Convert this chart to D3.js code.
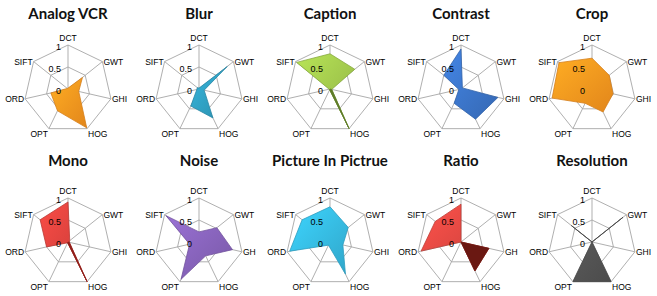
<!DOCTYPE html>
<html>
<head>
<meta charset="utf-8">
<script src="https://d3js.org/d3.v7.min.js"></script>
<style>
  body { margin: 0; background: #fff; }
  svg { display: block; }
</style>
</head>
<body>
<div id="charts"></div>
<script>
  const axes = ["DCT", "GWT", "GHI", "HOG", "OPT", "ORD", "SIFT"];
  const titles = ["Analog VCR", "Blur", "Caption", "Contrast", "Crop",
                  "Mono", "Noise", "Picture In Pictrue", "Ratio", "Resolution"];
  const tickValues = [0, 0.5, 1];
  const tickLabels = ["0", "0.5", "1"];

  // one array per attack, in the order of axes
  const analogVCR  = [0.02, 0.42, 0.25, 0.98, 0.55, 0.40, 0.02];
  const blur       = [0.02, 0.82, 0.12, 0.73, 0.43, 0.05, 0.05];
  const caption    = [0.80, 0.72, 0.04, 1.00, 0.02, 0.02, 0.97];
  const contrast   = [0.91, 0.04, 0.86, 0.76, 0.36, 0.05, 0.50];
  const crop       = [0.70, 0.50, 0.49, 0.58, 0.36, 0.93, 0.96];
  const mono       = [0.91, 0.05, 0.03, 1.00, 0.02, 0.50, 0.81];
  const noise      = [0.23, 0.52, 0.78, 0.35, 0.94, 0.22, 0.96];
  const picture    = [0.80, 0.53, 0.30, 0.81, 0.08, 0.94, 0.81];
  const ratio      = [0.86, 0.00, 0.65, 0.73, 0.00, 0.93, 0.75];
  const resolution = [0.00, 0.90, 0.00, 1.00, 1.00, 0.00, 0.60];

  const series = [analogVCR, blur, caption, contrast, crop, mono, noise, picture, ratio, resolution];
  const fills = ["#F7931E", "#2F9CBD", "#9DC34A", "#3A72C4", "#F7931E",
                 "#D6413C", "#8360B5", "#34B5DC", "#DB4640", "#505050"];
  // darker lower lobe (GHI-HOG-OPT) seen on some charts
  const lowerFills = [null, null, "#5E7B2A", null, null, "#8E1F1B", null, null, "#6A1812", null];
  // the GHI label is cut off at the edge of two of the charts
  const ghiLabels = ["GHI", "GHI", "GHI", "GHI", "GHI", "GHI", "GH", "GHI", "GH", "GHI"];

  const width = 657, height = 296;
  const R = 44;

  const svg = d3.select("#charts").append("svg")
    .attr("width", width).attr("height", height);
  const defs = svg.append("defs");

  const colX = d3.scalePoint().domain(d3.range(5)).range([68, 592]);
  const rowY = d3.scalePoint().domain([0, 1]).range([89, 242]);
  const titleY = d3.scalePoint().domain([0, 1]).range([19, 166]);
  const r = d3.scaleLinear().domain([0, 1]).range([0, R]);
  const angle = d3.scaleLinear().domain([0, axes.length]).range([0, 2 * Math.PI]);

  const pt = (i, v) => [r(v) * Math.sin(angle(i)), -r(v) * Math.cos(angle(i))];
  const smallFont = "8.5px 'Liberation Sans Narrow', sans-serif";

  series.forEach((vals, k) => {
    const col = k % 5, row = Math.floor(k / 5);
    const cx = colX(col), cy = rowY(row);
    const g = svg.append("g").attr("transform", `translate(${cx},${cy})`);

    svg.append("text")
      .attr("x", cx).attr("y", titleY(row))
      .attr("text-anchor", "middle")
      .style("font", "bold 15px Lato, sans-serif")
      .style("fill", "#111")
      .text(titles[k]);

    // rings
    g.selectAll(".ring").data(tickValues.slice(1)).join("polygon")
      .attr("points", v => axes.map((a, i) => pt(i, v)).join(" "))
      .attr("fill", "none").attr("stroke", "#A6A6A6").attr("stroke-width", 0.9);
    // spokes
    g.selectAll(".spoke").data(axes).join("line")
      .attr("x1", 0).attr("y1", 0)
      .attr("x2", (a, i) => pt(i, 1)[0]).attr("y2", (a, i) => pt(i, 1)[1])
      .attr("stroke", "#A6A6A6").attr("stroke-width", 0.9);

    const base = d3.color(fills[k]);
    const grad = defs.append("linearGradient").attr("id", "grad" + k)
      .attr("x1", 0).attr("y1", 0).attr("x2", 1).attr("y2", 1);
    grad.append("stop").attr("offset", "0%").attr("stop-color", base.brighter(0.45));
    grad.append("stop").attr("offset", "100%").attr("stop-color", base.darker(0.25));

    g.append("polygon")
      .attr("points", vals.map((v, i) => pt(i, v)).join(" "))
      .attr("fill", `url(#grad${k})`)
      .attr("stroke", base.darker(0.4)).attr("stroke-width", 0.8)
      .attr("stroke-linejoin", "round");

    if (lowerFills[k]) {
      const lobe = [[0, 0], pt(2, vals[2]), pt(3, vals[3]), pt(4, vals[4])];
      g.append("polygon")
        .attr("points", lobe.join(" "))
        .attr("fill", lowerFills[k])
        .attr("stroke", lowerFills[k]).attr("stroke-width", 0.8)
        .attr("stroke-linejoin", "round");
    }

    // tick labels on DCT axis
    g.selectAll(".tick").data(tickValues).join("text")
      .attr("x", -7).attr("y", v => -r(v) + 2)
      .attr("dy", "0.35em")
      .attr("text-anchor", "end")
      .style("font", "9px 'Liberation Sans Narrow', sans-serif")
      .style("fill", "#000")
      .text((v, i) => tickLabels[i]);

    // axis labels
    const labels = axes.map((a, i) => i === 2 ? ghiLabels[k] : a);
    g.selectAll(".lab").data(labels).join("text")
      .attr("x", (a, i) => {
        const p = pt(i, 1);
        if (i === 0) return p[0];
        return p[0] + (i < 4 ? 1 : -1);
      })
      .attr("y", (a, i) => {
        const p = pt(i, 1);
        if (i === 0) return p[1] - 7;
        if (i === 3 || i === 4) return p[1] + 5;
        return p[1];
      })
      .attr("dy", "0.35em")
      .attr("text-anchor", (a, i) => i === 0 ? "middle" : (i < 4 ? "start" : "end"))
      .style("font", smallFont)
      .style("fill", "#000")
      .text(d => d);
  });
</script>
</body>
</html>
